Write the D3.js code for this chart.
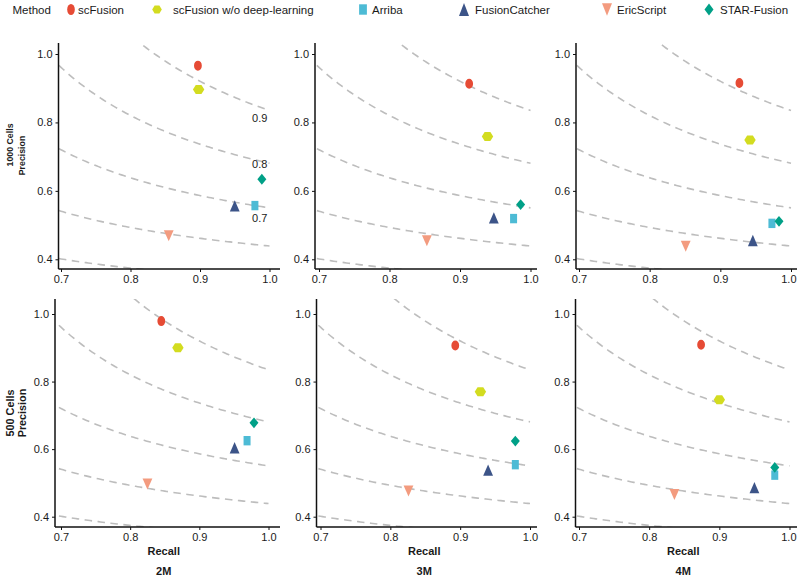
<!DOCTYPE html>
<html>
<head>
<meta charset="utf-8">
<script src="https://cdn.jsdelivr.net/npm/d3@7"></script>
<style>
  html, body { margin: 0; padding: 0; background: #fff; }
  svg { display: block; font-family: "Liberation Sans", Arial, Helvetica, sans-serif; }
</style>
</head>
<body>
<svg id="chart" width="797" height="575"></svg>
<script>
// ---------------- data ----------------
const methods = ["scFusion", "scFusion w/o deep-learning", "Arriba", "FusionCatcher", "EricScript", "STAR-Fusion"];
const methodColors = ["#E64B35", "#D3DC20", "#4DBBD5", "#3C5488", "#F39B7F", "#00A087"];
const methodShapes = ["circle", "hexagon", "square", "triangle", "triangleDown", "diamond"];

const rowLabels = ["1000 Cells", "500 Cells"];
const colLabels = ["2M", "3M", "4M"];

const xTicks = [0.7, 0.8, 0.9, 1.0];
const yTicks = [0.4, 0.6, 0.8, 1.0];

const curveLevels = [0.51, 0.61, 0.71, 0.81, 0.91];
const curveLabels = ["0.9", "0.8", "0.7"];
const curveLabelRecall = [0.986, 0.986, 0.986];
const curveLabelPrecision = [0.813, 0.678, 0.520];

// recall / precision per panel, in method order
const recall_1000_2M    = [0.897, 0.898, 0.979, 0.950, 0.855, 0.989];
const precision_1000_2M = [0.966, 0.896, 0.557, 0.556, 0.469, 0.634];
const recall_1000_3M    = [0.913, 0.939, 0.976, 0.948, 0.853, 0.986];
const precision_1000_3M = [0.913, 0.759, 0.519, 0.521, 0.454, 0.560];
const recall_1000_4M    = [0.927, 0.942, 0.973, 0.946, 0.851, 0.983];
const precision_1000_4M = [0.915, 0.749, 0.505, 0.455, 0.438, 0.511];
const recall_500_2M     = [0.845, 0.869, 0.969, 0.951, 0.825, 0.979];
const precision_500_2M  = [0.979, 0.900, 0.625, 0.604, 0.497, 0.678];
const recall_500_3M     = [0.893, 0.929, 0.979, 0.940, 0.826, 0.979];
const precision_500_3M  = [0.907, 0.770, 0.554, 0.538, 0.476, 0.624];
const recall_500_4M     = [0.874, 0.900, 0.979, 0.950, 0.836, 0.979];
const precision_500_4M  = [0.909, 0.746, 0.523, 0.486, 0.466, 0.546];

const panelData = [
  [[recall_1000_2M, precision_1000_2M], [recall_1000_3M, precision_1000_3M], [recall_1000_4M, precision_1000_4M]],
  [[recall_500_2M, precision_500_2M], [recall_500_3M, precision_500_3M], [recall_500_4M, precision_500_4M]]
];

// ---------------- layout ----------------
const svg = d3.select("#chart");
const FONT = "'Liberation Sans', Arial, Helvetica, sans-serif";
const TEXT = "#1a1a1a";
const WIDTH = 797;

// pixel anchors: x(0.7), x(1.0), axis left, axis right
const colGeom = [
  [{a: 61, b: 269.5, l: 58.5, r: 280}, {a: 319, b: 530.5, l: 315, r: 537}, {a: 579, b: 791, l: 576, r: 797}],
  [{a: 61, b: 268.5, l: 55, r: 280}, {a: 320.5, b: 530, l: 316.5, r: 537}, {a: 579, b: 789.5, l: 575.5, r: 797}]
];
// y(1.0), y(0.4), axis top, axis bottom
const rowGeom = [
  {y1: 54, y4: 259.3, t: 43, btm: 269},
  {y1: 314, y4: 516.7, t: 299, btm: 527}
];
const rowTitleSize = [8.8, 10.8];
const rowTitleY = [[145, 155.5], [413, 413]];

function shapePath(type, w, h) {
  const hw = w / 2, hh = h / 2;
  switch (type) {
    case "circle":
      return `M${-hw},0 A${hw},${hh} 0 1,0 ${hw},0 A${hw},${hh} 0 1,0 ${-hw},0 Z`;
    case "hexagon":
      return `M${-hw},0 L${-hw/2},${-hh} L${hw/2},${-hh} L${hw},0 L${hw/2},${hh} L${-hw/2},${hh} Z`;
    case "square":
      return `M${-hw},${-hh} H${hw} V${hh} H${-hw} Z`;
    case "triangle":
      return `M0,${-hh} L${hw},${hh} L${-hw},${hh} Z`;
    case "triangleDown":
      return `M${-hw},${-hh} L${hw},${-hh} L0,${hh} Z`;
    case "diamond":
      return `M0,${-hh} L${hw},0 L0,${hh} L${-hw},0 Z`;
  }
}
const shapeSize = {
  circle: [7.8, 10], hexagon: [11.4, 9], square: [7, 9.4], triangle: [9.8, 11.4],
  triangleDown: [9.8, 11], diamond: [9, 10.8]
};
const legendSize = {
  circle: [7.6, 11], hexagon: [9.6, 7.8], square: [7.8, 10.4], triangle: [10, 12.8],
  triangleDown: [10, 12.4], diamond: [9, 12]
};

const defs = svg.append("defs");

rowGeom.forEach((rg, ri) => {
  colGeom[ri].forEach((cg, ci) => {
    const x = d3.scaleLinear().domain([0.7, 1.0]).range([cg.a, cg.b]);
    const y = d3.scaleLinear().domain([0.4, 1.0]).range([rg.y4, rg.y1]);
    const g = svg.append("g");
    const clipId = `clip-${ri}-${ci}`;
    defs.append("clipPath").attr("id", clipId)
      .append("rect").attr("x", cg.l).attr("y", rg.t).attr("width", cg.r - cg.l).attr("height", rg.btm - rg.t);

    // iso-F dashed curves
    const recallGrid = d3.range(0.697, 1.0001, 0.003);
    const line = d3.line().x(d => x(d[0])).y(d => y(d[1])).curve(d3.curveLinear);
    const curves = g.append("g").attr("clip-path", `url(#${clipId})`);
    curveLevels.forEach(f => {
      const pts = recallGrid.filter(r => 2 * r - f > 0).map(r => [r, f * r / (2 * r - f)]);
      curves.append("path").attr("d", line(pts))
        .attr("fill", "none").attr("stroke", "#BDBDBD").attr("stroke-width", 1.6)
        .attr("stroke-dasharray", "7.5,5.5");
    });

    // curve labels only in first panel
    if (ri === 0 && ci === 0) {
      curveLabels.forEach((lab, i) => {
        g.append("text").attr("x", x(curveLabelRecall[i])).attr("y", y(curveLabelPrecision[i]))
          .attr("text-anchor", "middle").attr("dominant-baseline", "central")
          .attr("font-size", 11).attr("fill", TEXT).text(lab);
      });
    }

    // axes
    const xAxis = d3.axisBottom(x).tickValues(xTicks).tickFormat(d3.format(".1f")).tickSize(3).tickPadding(3);
    const yAxis = d3.axisLeft(y).tickValues(yTicks).tickFormat(d3.format(".1f")).tickSize(3).tickPadding(3);
    const gx = g.append("g").attr("transform", `translate(0,${rg.btm})`).call(xAxis);
    const gy = g.append("g").attr("transform", `translate(${cg.l},0)`).call(yAxis);
    [gx, gy].forEach(ax => {
      ax.select(".domain").remove();
      ax.selectAll(".tick line").attr("stroke", "#111").attr("stroke-width", 1);
      ax.selectAll(".tick text").attr("font-size", 11).attr("font-family", FONT).attr("fill", TEXT);
    });
    // keep the last tick label inside the picture
    gx.selectAll(".tick").each(function () {
      const t = d3.select(this);
      const txt = t.select("text").node();
      const bb = txt.getBBox();
      const tx = +t.attr("transform").match(/translate\(([-\d.]+)/)[1];
      const over = tx + bb.x + bb.width - (WIDTH - 0.5);
      if (over > 0) t.select("text").attr("dx", -over);
    });
    g.append("line").attr("x1", cg.l).attr("x2", cg.r).attr("y1", rg.btm).attr("y2", rg.btm)
      .attr("stroke", "#111").attr("stroke-width", 1.5);
    g.append("line").attr("x1", cg.l).attr("x2", cg.l).attr("y1", rg.t).attr("y2", rg.btm)
      .attr("stroke", "#111").attr("stroke-width", 1.5);

    // points
    const [rec, prec] = panelData[ri][ci];
    methods.forEach((m, mi) => {
      const s = methodShapes[mi];
      const [w, h] = shapeSize[s];
      g.append("path").attr("d", shapePath(s, w, h))
        .attr("transform", `translate(${x(rec[mi])},${y(prec[mi])})`)
        .attr("fill", methodColors[mi]);
    });

    // bottom titles
    if (ri === 1) {
      const cx = (cg.a + cg.b) / 2 - 1;
      g.append("text").attr("x", cx).attr("y", 555).attr("text-anchor", "middle")
        .attr("font-size", 11).attr("font-weight", "bold").attr("fill", TEXT).text("Recall");
      g.append("text").attr("x", cx).attr("y", 574.5).attr("text-anchor", "middle")
        .attr("font-size", 11).attr("font-weight", "bold").attr("fill", TEXT).text(colLabels[ci]);
    }
  });

  // row titles
  [[rowLabels[ri], 10], ["Precision", 22]].forEach(([txt, xx], k) => {
    svg.append("text")
      .attr("transform", `translate(${xx},${rowTitleY[ri][k]}) rotate(-90)`)
      .attr("text-anchor", "middle").attr("dominant-baseline", "central")
      .attr("font-size", rowTitleSize[ri]).attr("font-weight", "bold").attr("fill", TEXT).text(txt);
  });
});

// ---------------- legend ----------------
const legendShapeX = [71, 157, 363, 464, 607, 709];
const legendTextX = [78, 173, 372, 475, 617, 720];
const legY = 9.5;
svg.append("text").attr("x", 12.5).attr("y", legY).attr("dominant-baseline", "central")
  .attr("font-size", 11.5).attr("fill", TEXT).text("Method");
methods.forEach((m, mi) => {
  const s = methodShapes[mi];
  const [w, h] = legendSize[s];
  svg.append("path").attr("d", shapePath(s, w, h))
    .attr("transform", `translate(${legendShapeX[mi]},${legY})`)
    .attr("fill", methodColors[mi]);
  svg.append("text").attr("x", legendTextX[mi]).attr("y", legY).attr("dominant-baseline", "central")
    .attr("font-size", 11.5).attr("fill", TEXT).text(m);
});
</script>
</body>
</html>
